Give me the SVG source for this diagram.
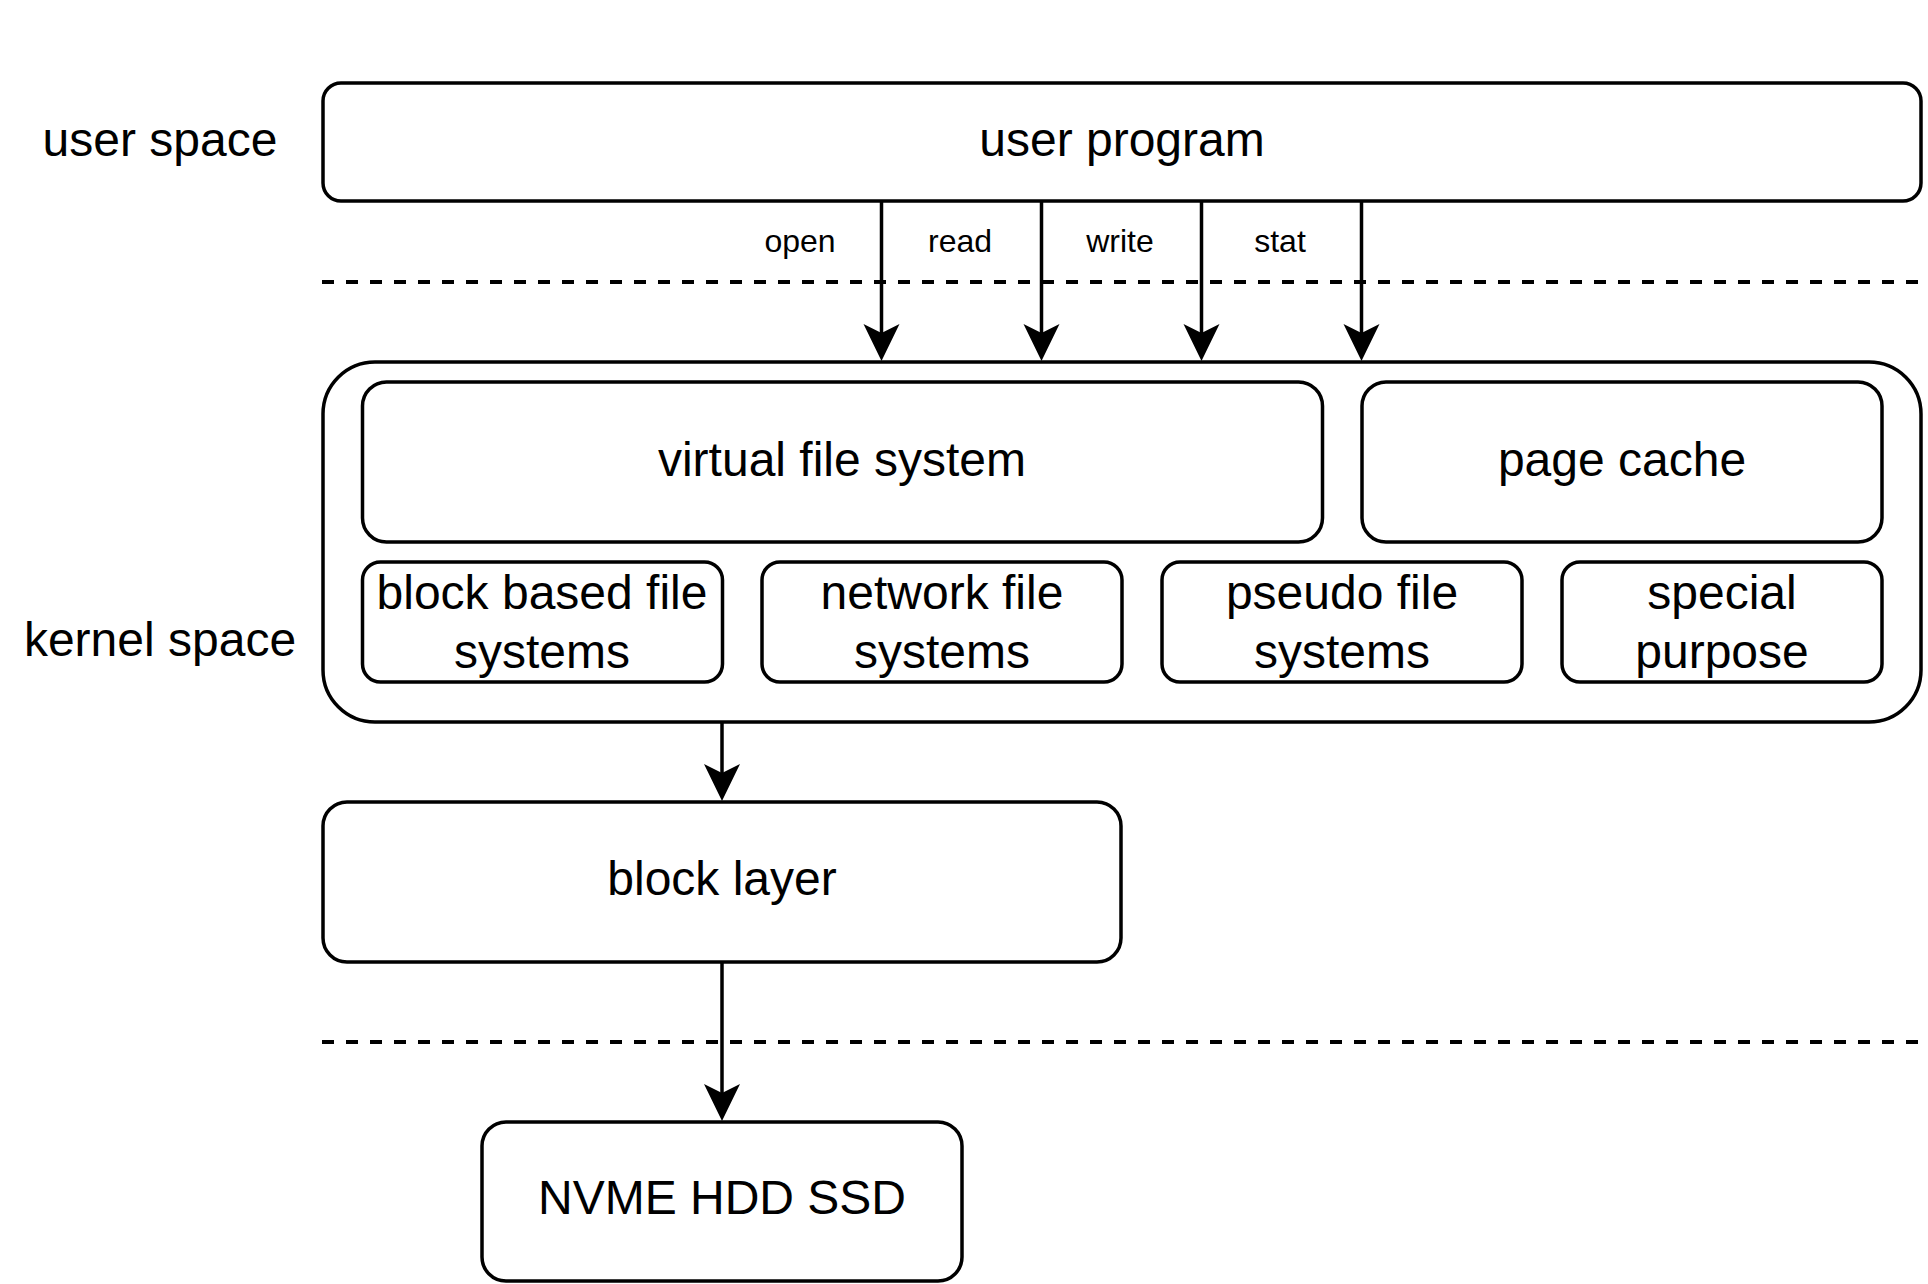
<svg xmlns="http://www.w3.org/2000/svg" width="1928" height="1284" viewBox="0 0 1928 1284">
  <style>
    .box { fill: #ffffff; stroke: #000000; stroke-width: 3.5; }
    .t { font-family: "Liberation Sans", Arial, Helvetica, sans-serif; font-size: 48px; fill: #000000; text-anchor: middle; }
    .s { font-family: "Liberation Sans", Arial, Helvetica, sans-serif; font-size: 32px; fill: #000000; text-anchor: middle; }
    .edge { fill: none; stroke: #000000; stroke-width: 3.5; marker-end: url(#arrow); }
    .dash { fill: none; stroke: #000000; stroke-width: 4; stroke-dasharray: 12 12; }
  </style>
  <defs>
    <marker id="arrow" markerUnits="userSpaceOnUse" viewBox="0 -20 40 40" markerWidth="40" markerHeight="40" refX="27" refY="0" orient="auto">
      <path d="M0,-18 L37,0 L0,18 L9,0 Z" fill="#000000"/>
    </marker>
  </defs>

  <g id="separators">
    <line class="dash" x1="322" y1="282" x2="1922" y2="282"/>
    <line class="dash" x1="322" y1="1042" x2="1922" y2="1042"/>
  </g>

  <g id="label-user-space">
    <text class="t" x="160" y="156">user space</text>
  </g>
  <g id="label-kernel-space">
    <text class="t" x="160" y="656">kernel space</text>
  </g>

  <g id="user-program">
    <rect class="box" x="323" y="83" width="1598" height="118" rx="18" ry="18"/>
    <text class="t" x="1122" y="156">user program</text>
  </g>

  <g id="kernel">
    <rect class="box" x="323" y="362" width="1598" height="360" rx="52" ry="52"/>
  </g>

  <g id="vfs">
    <rect class="box" x="362.5" y="382" width="960" height="160" rx="24" ry="24"/>
    <text class="t" x="842" y="476">virtual file system</text>
  </g>

  <g id="page-cache">
    <rect class="box" x="1362" y="382" width="520" height="160" rx="24" ry="24"/>
    <text class="t" x="1622" y="476">page cache</text>
  </g>

  <g id="block-fs">
    <rect class="box" x="362.5" y="562" width="360" height="120" rx="18" ry="18"/>
    <text class="t" x="542" y="609">block based file</text>
    <text class="t" x="542" y="668">systems</text>
  </g>

  <g id="network-fs">
    <rect class="box" x="762" y="562" width="360" height="120" rx="18" ry="18"/>
    <text class="t" x="942" y="609">network file</text>
    <text class="t" x="942" y="668">systems</text>
  </g>

  <g id="pseudo-fs">
    <rect class="box" x="1162" y="562" width="360" height="120" rx="18" ry="18"/>
    <text class="t" x="1342" y="609">pseudo file</text>
    <text class="t" x="1342" y="668">systems</text>
  </g>

  <g id="special-purpose">
    <rect class="box" x="1562" y="562" width="320" height="120" rx="18" ry="18"/>
    <text class="t" x="1722" y="609">special</text>
    <text class="t" x="1722" y="668">purpose</text>
  </g>

  <g id="block-layer">
    <rect class="box" x="323" y="802" width="798" height="160" rx="24" ry="24"/>
    <text class="t" x="722" y="895">block layer</text>
  </g>

  <g id="devices">
    <rect class="box" x="482" y="1122" width="480" height="159" rx="24" ry="24"/>
    <text class="t" x="722" y="1214">NVME HDD SSD</text>
  </g>

  <g id="connectors">
    <line class="edge" x1="881.5" y1="201" x2="881.5" y2="351"/>
    <line class="edge" x1="1041.5" y1="201" x2="1041.5" y2="351"/>
    <line class="edge" x1="1201.5" y1="201" x2="1201.5" y2="351"/>
    <line class="edge" x1="1361.5" y1="201" x2="1361.5" y2="351"/>
    <line class="edge" x1="722" y1="722" x2="722" y2="791"/>
    <line class="edge" x1="722" y1="962" x2="722" y2="1111"/>
    <text class="s" x="800" y="252">open</text>
    <text class="s" x="960" y="252">read</text>
    <text class="s" x="1120" y="252">write</text>
    <text class="s" x="1280" y="252">stat</text>
  </g>
</svg>
